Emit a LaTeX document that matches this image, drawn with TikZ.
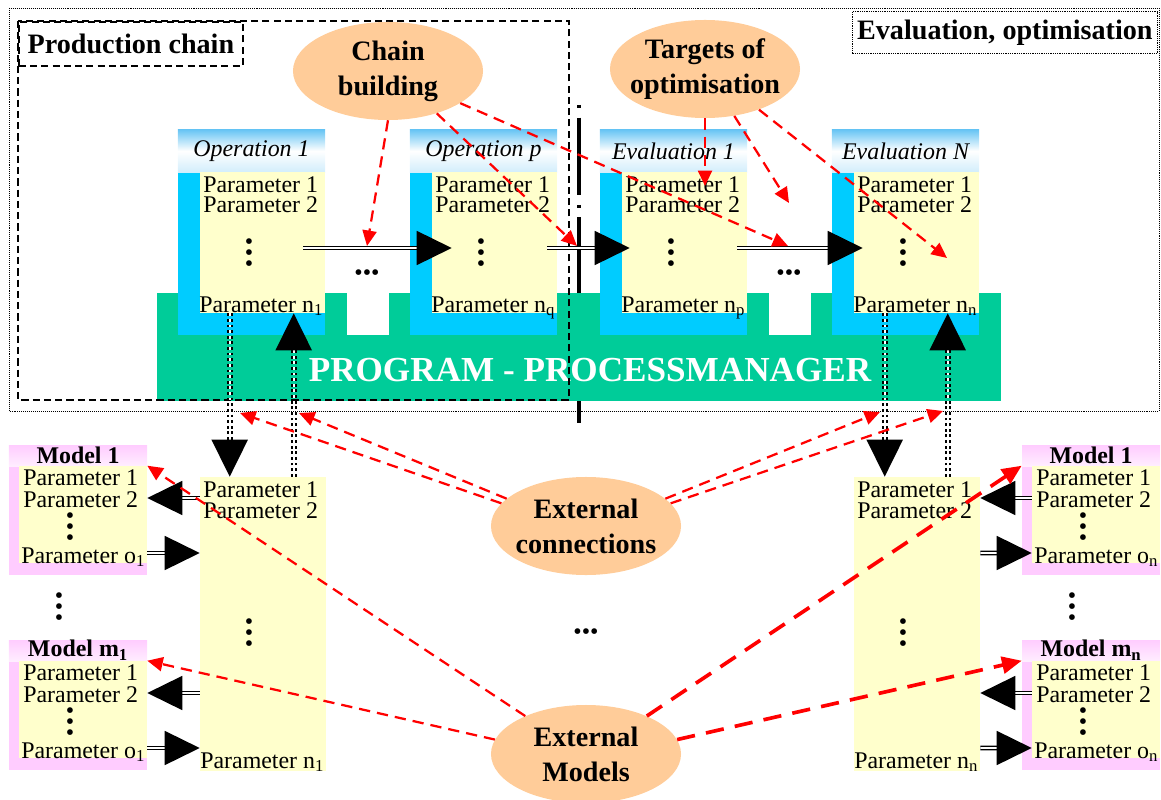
\documentclass[tikz,border=0pt]{standalone}
\usepackage{fontspec}
\setmainfont{Liberation Serif}
\usetikzlibrary{arrows.meta,shapes.geometric,calc}
\definecolor{opblue}{HTML}{00CCFF}
\definecolor{hdblue}{HTML}{66C4F4}
\definecolor{paryellow}{HTML}{FFFFCC}
\definecolor{pmgreen}{HTML}{00CC99}
\definecolor{peach}{HTML}{FFCC99}
\definecolor{mpink}{HTML}{FFCCFF}
\newcommand{\partext}{\fontsize{17}{20}\selectfont}
\newcommand{\boldtext}{\fontsize{20}{25}\selectfont\bfseries}
\begin{document}
\begin{tikzpicture}[x=0.025cm,y=-0.025cm,
  opframe/.style={rectangle,fill=opblue,inner sep=0,minimum width=3.675cm,minimum height=5.125cm},
  ophead/.style={rectangle,inner sep=0,minimum width=3.675cm,minimum height=1.075cm,top color=hdblue,bottom color=hdblue!30,middle color=white,font=\partext\itshape},
  opyel/.style={rectangle,fill=paryellow,inner sep=0,minimum width=3.125cm,minimum height=3.525cm},
  txt/.style={inner sep=0,anchor=base west,font=\partext},
  vdots/.style={inner sep=0,align=center,font={\fontsize{17}{7.8}\selectfont\lineskiplimit=-20pt\lineskip=0pt}},
  hdots/.style={inner sep=0,font=\partext},
  bubble/.style={ellipse,fill=peach,inner xsep=-6pt,inner ysep=0,minimum width=4.75cm,minimum height=2.45cm,align=center,font=\boldtext},
  mframe/.style={rectangle,fill=mpink,inner sep=0,minimum width=3.45cm,minimum height=3.25cm},
  mhead/.style={rectangle,inner sep=0,minimum width=3.45cm,minimum height=0.525cm,top color=mpink,bottom color=mpink!35,font=\partext\bfseries},
  myel/.style={rectangle,fill=paryellow,inner sep=0,minimum width=3.2cm,minimum height=2.425cm},
  parcol/.style={rectangle,fill=paryellow,inner sep=0,minimum width=3.15cm,minimum height=7.35cm},
  flow/.style={draw=black,line width=1.1pt,double=white,double distance=1.3pt,-{Triangle[length=0.875cm,width=0.85cm]}},
  link/.style={draw=black,line width=1.5pt,double=white,double distance=1.5pt,dash pattern=on 2pt off 2pt,-{Triangle[length=0.925cm,width=0.9cm]}},
  hint/.style={draw=red,line width=1.6pt,dash pattern=on 8pt off 5pt,-{Triangle[length=11pt,width=10pt]}},
  hintbold/.style={draw=red,line width=2.6pt,dash pattern=on 13pt off 8pt,-{Triangle[length=14pt,width=12pt]}}]
\useasboundingbox (0,0) rectangle (1161,800);
% evaluation frame
\draw[line width=0.7pt,dash pattern=on 0.7pt off 0.7pt] (9,8) rectangle (1159,411);
\node[draw,line width=0.9pt,dash pattern=on 0.9pt off 0.7pt,anchor=north east,inner sep=0,minimum width=7.625cm,minimum height=1.05cm,font=\boldtext] (evalopt) at (1158,11) {Evaluation, optimisation};
% separator
\draw[line width=3.5pt,dash pattern=on 2pt off 7pt on 55pt off 7pt] (579,105) -- (579,293);
\draw[line width=3.5pt] (579,401) -- (579,423);
% process manager
\fill[pmgreen] (157,293) rectangle (1001,401);
\fill[white] (347,293) rectangle (389,335);
\fill[white] (769,293) rectangle (811,335);
\node[inner sep=0,text=white,font=\fontsize{25}{30}\selectfont\bfseries] (pm) at (590,370) {PROGRAM - PROCESSMANAGER};
% operations and evaluations
\begin{scope}
\node[opframe] (op1) at (251.5,232.5) {};
\node[ophead] (op1h) at (251.5,151) {Operation 1};
\node[opyel] (op1y) at (262.5,242.5) {};
\node[txt] (op1a) at (203,193) {Parameter 1};
\node[txt] (op1b) at (203,213) {Parameter 2};
\node[vdots] (op1d) at (249,255) {•\\•\\•};
\node[txt] (op1n) at (199,312) {Parameter n\textsubscript{1}};
\end{scope}
\begin{scope}[shift={(232,0)}]
\node[opframe] (opp) at (251.5,232.5) {};
\node[ophead] (opph) at (251.5,151) {Operation p};
\node[opyel] (oppy) at (262.5,242.5) {};
\node[txt] (oppa) at (203,193) {Parameter 1};
\node[txt] (oppb) at (203,213) {Parameter 2};
\node[vdots] (oppd) at (249,255) {•\\•\\•};
\node[txt] (oppn) at (199,312) {Parameter n\textsubscript{q}};
\end{scope}
\begin{scope}[shift={(422,0)}]
\node[opframe] (ev1) at (251.5,232.5) {};
\node[ophead] (ev1h) at (251.5,151) {Evaluation 1};
\node[opyel] (ev1y) at (262.5,242.5) {};
\node[txt] (ev1a) at (203,193) {Parameter 1};
\node[txt] (ev1b) at (203,213) {Parameter 2};
\node[vdots] (ev1d) at (249,255) {•\\•\\•};
\node[txt] (ev1n) at (199,312) {Parameter n\textsubscript{p}};
\end{scope}
\begin{scope}[shift={(654,0)}]
\node[opframe] (evn) at (251.5,232.5) {};
\node[ophead] (evnh) at (251.5,151) {Evaluation N};
\node[opyel] (evny) at (262.5,242.5) {};
\node[txt] (evna) at (203,193) {Parameter 1};
\node[txt] (evnb) at (203,213) {Parameter 2};
\node[vdots] (evnd) at (249,255) {•\\•\\•};
\node[txt] (evnn) at (199,312) {Parameter n\textsubscript{n}};
\end{scope}
\node[hdots] (odots1) at (367,275) {•••};
\node[hdots] (odots2) at (789,275) {•••};
% production chain
\draw[line width=1.3pt,dash pattern=on 5pt off 3pt] (18,21) rectangle (569,400);
\node[draw,line width=1.3pt,dash pattern=on 5pt off 3pt,anchor=north west,inner sep=0,minimum width=5.6cm,minimum height=1.1cm,font=\boldtext] (prodchain) at (18,21) {Production chain};
% ellipses
\node[bubble] (chain) at (388,71) {Chain\\building};
\node[bubble] (target) at (705,69) {Targets of\\optimisation};
\node[bubble] (extc) at (586,526) {External\\connections};
\node[bubble] (extm) at (586,754) {External\\Models};
\node[hdots] (mdots) at (586,634) {•••};
% lower parameter columns
\node[parcol] (lcol) at (263,624) {};
\node[txt] (lcola) at (203,497) {Parameter 1};
\node[txt] (lcolb) at (203,518) {Parameter 2};
\node[vdots] (lcold) at (249,635) {•\\•\\•};
\node[txt] (lcoln) at (200,768) {Parameter n\textsubscript{1}};
\begin{scope}[shift={(654,0)}]
\node[parcol] (rcol) at (263,624) {};
\node[txt] (rcola) at (203,497) {Parameter 1};
\node[txt] (rcolb) at (203,518) {Parameter 2};
\node[vdots] (rcold) at (249,635) {•\\•\\•};
\node[txt] (rcoln) at (200,768) {Parameter n\textsubscript{n}};
\end{scope}
% models
\begin{scope}
\node[mframe] (lm1) at (78,510) {};
\node[mhead] (lm1h) at (78,455.5) {Model 1};
\node[myel] (lm1y) at (83,514.5) {};
\node[txt] (lm1a) at (23,485) {Parameter 1};
\node[txt] (lm1b) at (23,507) {Parameter 2};
\node[vdots] (lm1d) at (70,529) {•\\•\\•};
\node[txt] (lm1o) at (21,563) {Parameter o\textsubscript{1}};
\end{scope}
\begin{scope}[shift={(0,195)}]
\node[mframe] (lmm) at (78,510) {};
\node[mhead] (lmmh) at (78,455.5) {Model m\textsubscript{1}};
\node[myel] (lmmy) at (83,514.5) {};
\node[txt] (lmma) at (23,485) {Parameter 1};
\node[txt] (lmmb) at (23,507) {Parameter 2};
\node[vdots] (lmmd) at (70,529) {•\\•\\•};
\node[txt] (lmmo) at (21,563) {Parameter o\textsubscript{1}};
\end{scope}
\begin{scope}[shift={(1013,0)}]
\node[mframe] (rm1) at (78,510) {};
\node[mhead] (rm1h) at (78,455.5) {Model 1};
\node[myel] (rm1y) at (83,514.5) {};
\node[txt] (rm1a) at (23,485) {Parameter 1};
\node[txt] (rm1b) at (23,507) {Parameter 2};
\node[vdots] (rm1d) at (70,529) {•\\•\\•};
\node[txt] (rm1o) at (21,563) {Parameter o\textsubscript{n}};
\end{scope}
\begin{scope}[shift={(1013,195)}]
\node[mframe] (rmm) at (78,510) {};
\node[mhead] (rmmh) at (78,455.5) {Model m\textsubscript{n}};
\node[myel] (rmmy) at (83,514.5) {};
\node[txt] (rmma) at (23,485) {Parameter 1};
\node[txt] (rmmb) at (23,507) {Parameter 2};
\node[vdots] (rmmd) at (70,529) {•\\•\\•};
\node[txt] (rmmo) at (21,563) {Parameter o\textsubscript{n}};
\end{scope}
\node[vdots] (ldots) at (59,609) {•\\•\\•};
\node[vdots] (rdots) at (1072,609) {•\\•\\•};
% chain flow
\draw[flow] ($(op1y.east)+(-22,5.5)$) -- ($(opp.west)+(42,15.5)$);
\draw[flow] ($(oppy.east)+(-10,5.5)$) -- ($(ev1.west)+(30,15.5)$);
\draw[flow] ($(ev1y.east)+(-10,5.5)$) -- ($(evn.west)+(31,15.5)$);
% external connections
\draw[link] ($(op1y.south west)+(30,0)$) -- ($(lcol.north west)+(30,0)$);
\draw[link] ($(lcol.north west)+(94,0)$) -- ($(op1y.south west)+(94,0)$);
\draw[link] ($(evny.south west)+(31,0)$) -- ($(rcol.north west)+(31,0)$);
\draw[link] ($(rcol.north west)+(94,0)$) -- ($(evny.south west)+(94,0)$);
% model flows
\draw[flow] ($(lcol.west)+(0,-126)$) -- ($(lm1.east)+(0,-12)$);
\draw[flow] ($(lm1.east)+(0,43)$) -- ($(lcol.west)+(0,-71)$);
\draw[flow] ($(lcol.west)+(0,69)$) -- ($(lmm.east)+(0,-12)$);
\draw[flow] ($(lmm.east)+(0,43)$) -- ($(lcol.west)+(0,124)$);
\draw[flow] ($(rm1y.west)+(0,-16.5)$) -- ($(rcol.east)+(0,-126)$);
\draw[flow] ($(rcol.east)+(0,-71)$) -- ($(rm1y.west)+(0,38.5)$);
\draw[flow] ($(rmmy.west)+(0,-16.5)$) -- ($(rcol.east)+(0,69)$);
\draw[flow] ($(rcol.east)+(0,124)$) -- ($(rmmy.west)+(0,38.5)$);
% red hints
\coordinate (cb1) at (367,246);
\coordinate (cb2) at (577,246);
\coordinate (cb3) at (788,246);
\coordinate (ot1) at (705,186);
\coordinate (ot2) at (789,203);
\coordinate (ot3) at (947,258);
\coordinate (ec1) at (240,413);
\coordinate (ec2) at (299,413);
\coordinate (ec3) at (880,412);
\coordinate (ec4) at (943,411);
\draw[hint] (chain.south) -- (cb1);
\draw[hint] (chain.-41) -- (cb2);
\draw[hint] (chain.-24) -- (cb3);
\draw[hint] (target.south) -- (ot1);
\draw[hint] (target.-58) -- (ot2);
\draw[hint] (target.-37) -- (ot3);
\draw[hint] (extc.165) -- (ec1);
\draw[hint] (extc.161) -- (ec2);
\draw[hint] (extc.19) -- (ec3);
\draw[hint] (extc.15) -- (ec4);
\draw[hint] (extm.148) -- (lm1y.north east);
\draw[hint] (extm.171) -- (lmmy.north east);
\draw[hintbold] (extm.32) -- (rm1.west |- rm1y.north);
\draw[hintbold] (extm.9) -- (rmm.west |- rmmy.north);
\end{tikzpicture}
\end{document}
